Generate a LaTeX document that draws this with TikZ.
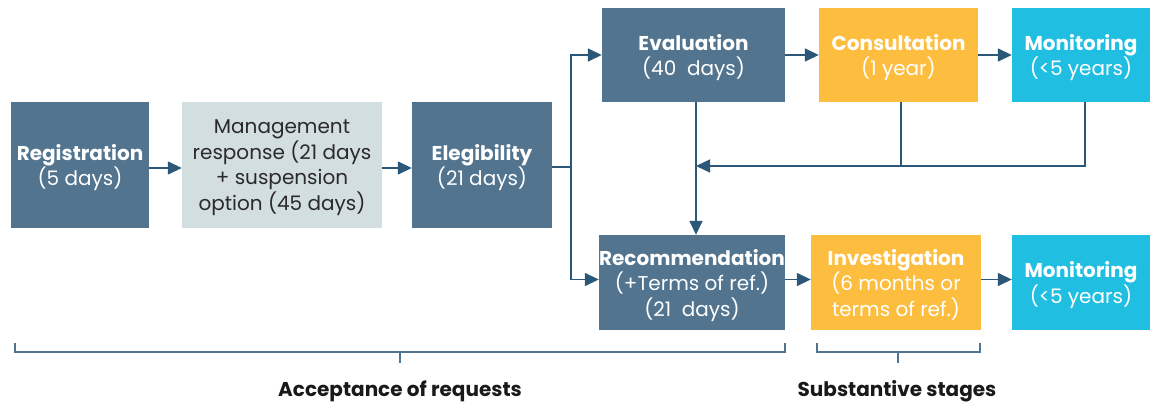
\documentclass[tikz,border=0pt]{standalone}
\usepackage{fontspec}
\setmainfont{Poppins}
\usetikzlibrary{arrows.meta}
\definecolor{slate}{HTML}{52748F}
\definecolor{lightgray}{HTML}{D3DEE0}
\definecolor{orangeb}{HTML}{FDBE3F}
\definecolor{cyanb}{HTML}{20BFE2}
\definecolor{lineblue}{HTML}{2B5878}
\definecolor{darktext}{HTML}{2A2A2A}
\begin{document}
\begin{tikzpicture}[x=1pt,y=-1pt,
  box/.style={rectangle, inner sep=0pt, align=center, text=white, text depth=-2pt,
    font=\fontsize{20}{25.5}\selectfont},
  conn/.style={draw=lineblue, line width=1.5pt, -{Triangle[length=14pt,width=13pt]}},
  plain/.style={draw=lineblue, line width=1.5pt},
  bracket/.style={draw=slate, line width=1.8pt},
  caption/.style={font=\fontsize{20}{22}\selectfont\bfseries, text=black!90}]
\useasboundingbox (0,0) rectangle (1155,404);

\node[box, fill=slate, minimum width=138pt, minimum height=126pt] (reg) at (80,165)
  {\textbf{Registration}\\(5 days)};
\node[box, fill=lightgray, text=darktext, minimum width=200pt, minimum height=126pt] (mgmt) at (282,165)
  {Management\\response (21 days\\+ suspension\\option (45 days)};
\node[box, fill=slate, minimum width=140pt, minimum height=126pt] (eleg) at (482,165)
  {\textbf{Elegibility}\\(21 days)};
\node[box, fill=slate, minimum width=183pt, minimum height=94pt] (eval) at (693.5,55)
  {\textbf{Evaluation}\\(40\ \ days)};
\node[box, fill=orangeb, minimum width=159pt, minimum height=94pt] (cons) at (898.5,55)
  {\textbf{Consultation}\\(1 year)};
\node[box, fill=cyanb, minimum width=138pt, minimum height=94pt] (mon1) at (1081,55)
  {\textbf{Monitoring}\\(<5 years)};
\node[box, fill=slate, minimum width=186pt, minimum height=95pt] (rec) at (692,282.5)
  {\textbf{Recommendation}\\(+Terms of ref.)\\(21\ \ days)};
\node[box, fill=orangeb, minimum width=170pt, minimum height=95pt] (inv) at (896,282.5)
  {\textbf{Investigation}\\(6 months or\\terms of ref.)};
\node[box, fill=cyanb, minimum width=138pt, minimum height=95pt] (mon2) at (1081,282.5)
  {\textbf{Monitoring}\\(<5 years)};

% main flow
\draw[conn] (reg.east |- 0,168) -- (mgmt.west |- 0,168);
\draw[conn] (mgmt.east |- 0,168) -- (eleg.west |- 0,168);
\coordinate (j) at (571,167);
\draw[plain] (eleg.east |- j) -- (j);
\draw[conn] (j) |- (eval.west);
\draw[conn] (j) |- ([yshift=3pt]rec.west);
\draw[conn] (eval) -- (cons);
\draw[conn] (cons) -- (mon1);
\draw[conn] ([yshift=3pt]rec.east) -- ([yshift=3pt]inv.west);
\draw[conn] ([yshift=3pt]inv.east) -- ([yshift=3pt]mon2.west);

% feedback
\coordinate (fb) at (696,166);
\draw[plain] ([xshift=2.5pt]cons.south) -- ([xshift=2.5pt]cons.south |- fb);
\draw[conn] ([xshift=4pt]mon1.south) |- (fb);
\draw[conn] (eval.south -| fb) -- (rec.north -| fb);

% brackets
\draw[bracket] (15,343) -- (15,352) -- (785,352) -- (785,343);
\draw[bracket] (400,352) -- (400,363);
\draw[bracket] (817,343) -- (817,352) -- (980,352) -- (980,343);
\draw[bracket] (898,352) -- (898,363);

\node[caption] (acc) at (400,391) {Acceptance of requests};
\node[caption] (sub) at (897,391) {Substantive stages};
\end{tikzpicture}
\end{document}
